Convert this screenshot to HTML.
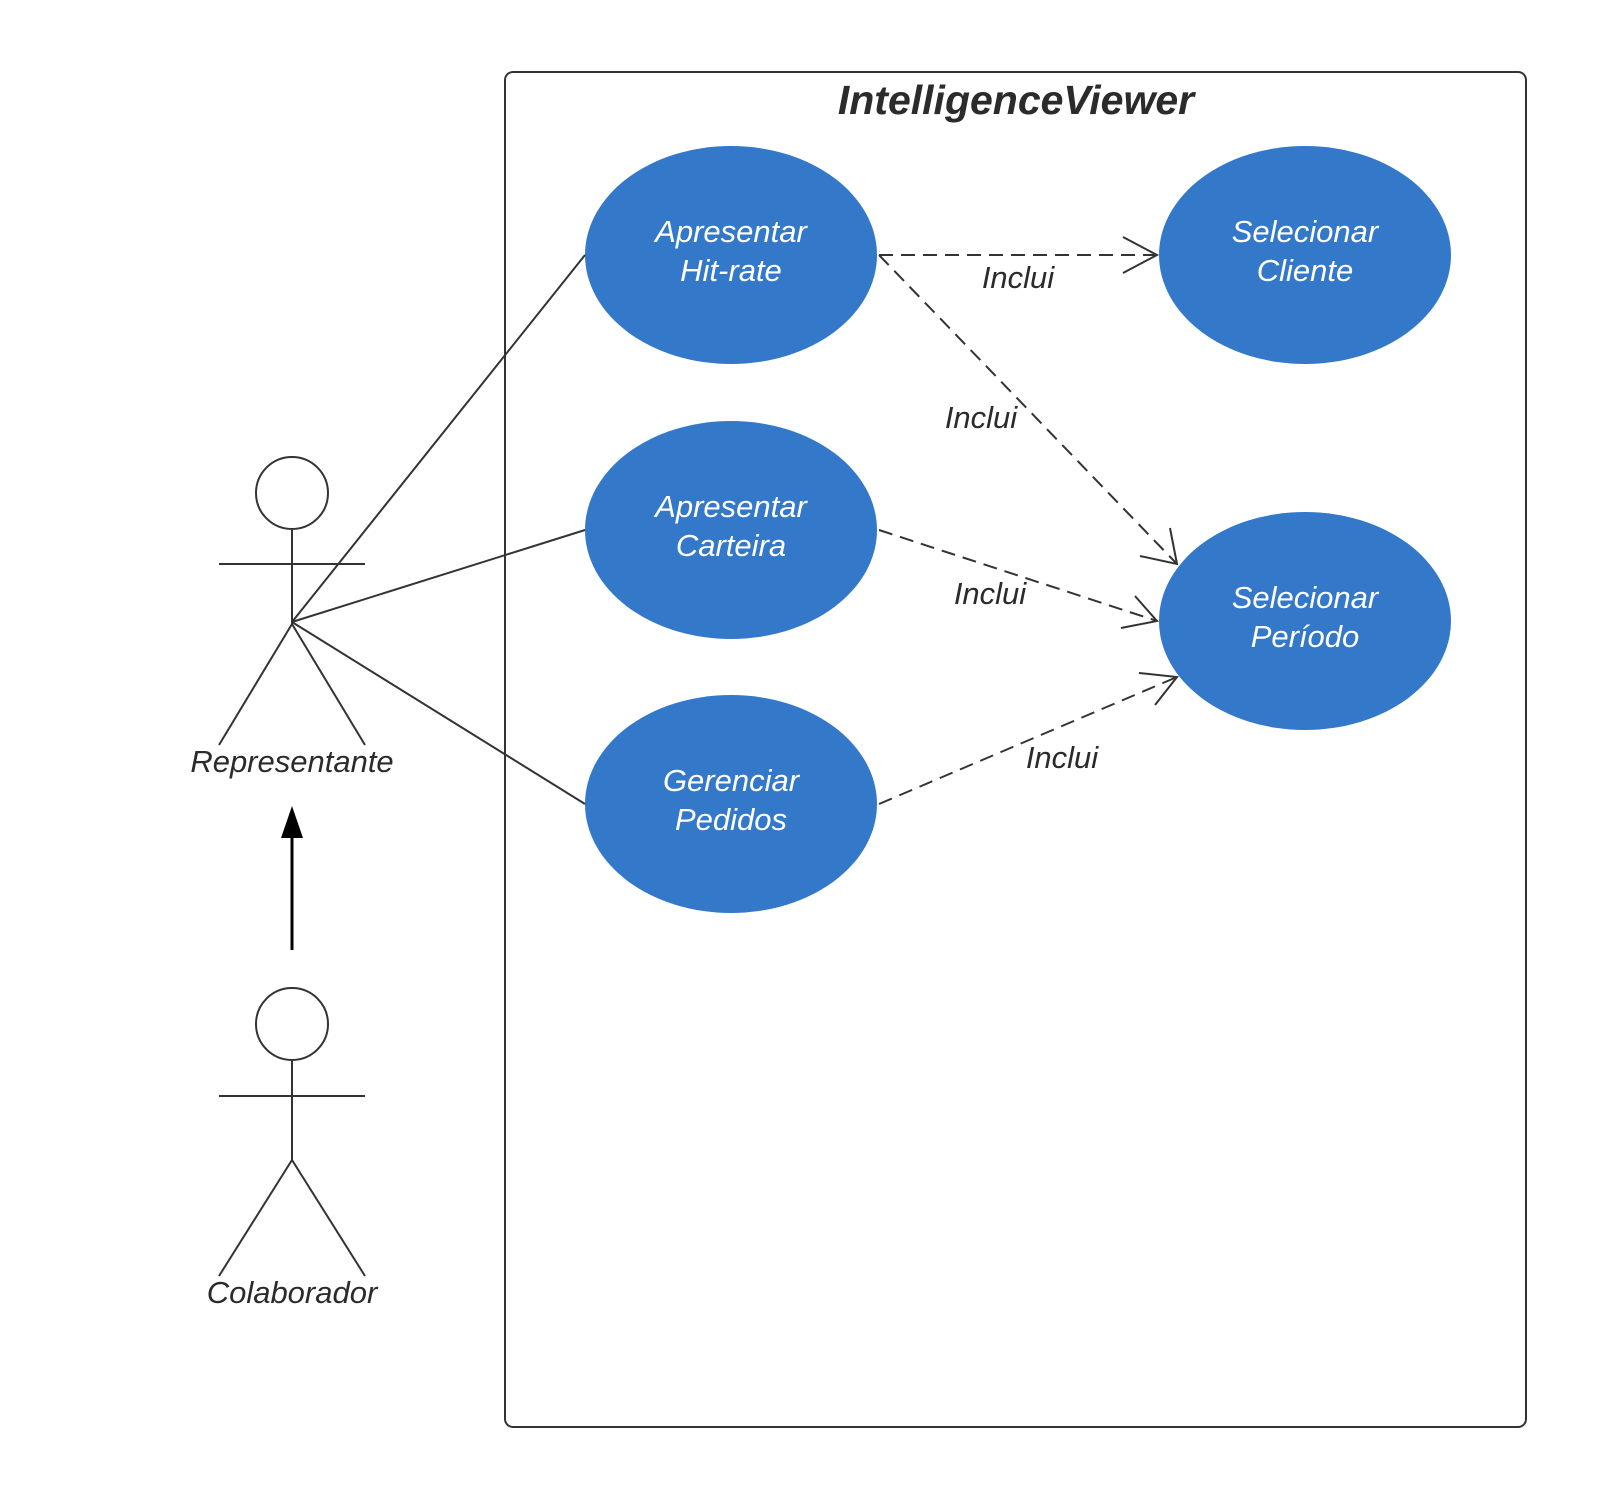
<!DOCTYPE html>
<html><head><meta charset="utf-8"><style>html,body{margin:0;padding:0;background:#fff}svg{display:block}</style></head>
<body>
<svg width="1600" height="1501" viewBox="0 0 1600 1501" xmlns="http://www.w3.org/2000/svg" font-family="Liberation Sans, sans-serif">
<rect x="505" y="72" width="1021" height="1355" rx="8" fill="none" stroke="#333" stroke-width="2"/>
<text x="1016" y="114" text-anchor="middle" font-size="41" font-weight="bold" font-style="italic" fill="#2b2b2b">IntelligenceViewer</text>
<g fill="#3478c9">
<ellipse cx="731" cy="255" rx="146" ry="109"/>
<ellipse cx="731" cy="530" rx="146" ry="109"/>
<ellipse cx="731" cy="804" rx="146" ry="109"/>
<ellipse cx="1305" cy="255" rx="146" ry="109"/>
<ellipse cx="1305" cy="621" rx="146" ry="109"/>
</g>
<g fill="#fff" font-size="31" font-style="italic" text-anchor="middle">
<text x="731" y="242">Apresentar</text><text x="731" y="281">Hit-rate</text>
<text x="731" y="517">Apresentar</text><text x="731" y="556">Carteira</text>
<text x="731" y="791">Gerenciar</text><text x="731" y="830">Pedidos</text>
<text x="1305" y="242">Selecionar</text><text x="1305" y="281">Cliente</text>
<text x="1305" y="608">Selecionar</text><text x="1305" y="647">Período</text>
</g>
<g stroke="#333" stroke-width="2" fill="none">
<line x1="292" y1="622" x2="585" y2="255"/>
<line x1="292" y1="622" x2="585" y2="530"/>
<line x1="292" y1="622" x2="585" y2="804"/>
<circle cx="292" cy="493" r="36"/>
<line x1="219" y1="564" x2="365" y2="564"/>
<line x1="292" y1="529" x2="292" y2="624"/>
<polyline points="219,745 292,624 365,745"/>
<circle cx="292" cy="1024" r="36"/>
<line x1="219" y1="1096" x2="365" y2="1096"/>
<line x1="292" y1="1060" x2="292" y2="1160"/>
<polyline points="219,1276 292,1160 365,1276"/>
</g>
<line x1="292" y1="950" x2="292" y2="832" stroke="#000" stroke-width="3"/>
<polygon points="292,806 281,838 303,838" fill="#000"/>
<g stroke="#333" stroke-width="2" fill="none" stroke-dasharray="14,8">
<line x1="879" y1="255" x2="1157" y2="255"/>
<line x1="879" y1="255" x2="1177" y2="564"/>
<line x1="879" y1="530" x2="1157" y2="621"/>
<line x1="879" y1="804" x2="1177" y2="677"/>
</g>
<g stroke="#333" stroke-width="2" fill="none">
<polyline points="1123,237 1157,255 1123,273"/>
<polyline points="1170,528 1177,564 1140,556"/>
<polyline points="1135,596 1157,621 1121,628"/>
<polyline points="1139,673 1177,677 1155,705"/>
</g>
<g fill="#2b2b2b" font-size="31" font-style="italic" text-anchor="middle">
<text x="1018" y="288">Inclui</text>
<text x="981" y="428">Inclui</text>
<text x="990" y="604">Inclui</text>
<text x="1062" y="768">Inclui</text>
<text x="292" y="772">Representante</text>
<text x="292" y="1303">Colaborador</text>
</g>
</svg>
</body></html>
